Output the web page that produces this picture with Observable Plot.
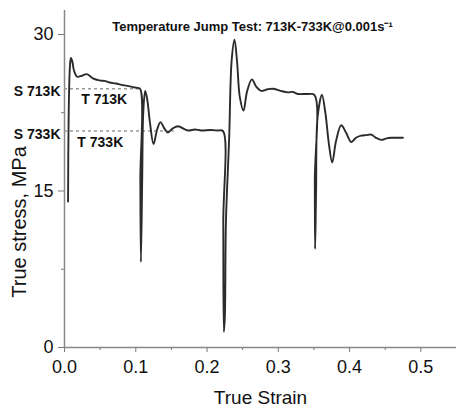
<!DOCTYPE html>
<html><head><meta charset="utf-8">
<script src="https://cdn.jsdelivr.net/npm/d3@7"></script>
<script src="https://cdn.jsdelivr.net/npm/@observablehq/plot@0.6"></script>
<style>body{margin:0;background:#fff}#chart{width:456px;height:408px}</style>
</head><body><div id="chart"></div>
<script>
const strain = [0.0050,0.0058,0.0075,0.0090,0.0110,0.0135,0.0178,0.0245,0.0314,0.0398,0.0491,0.0560,0.0631,0.0720,0.0819,0.0900,0.1006,0.1060,0.1064,0.1072,0.1090,0.1105,0.1132,0.1160,0.1200,0.1249,0.1300,0.1347,0.1400,0.1451,0.1520,0.1591,0.1731,0.1830,0.1918,0.2050,0.2150,0.2223,0.2228,0.2236,0.2250,0.2265,0.2310,0.2345,0.2385,0.2420,0.2460,0.2512,0.2560,0.2629,0.2690,0.2760,0.2850,0.2924,0.3030,0.3135,0.3200,0.3275,0.3415,0.3508,0.3512,0.3516,0.3530,0.3550,0.3612,0.3660,0.3710,0.3756,0.3810,0.3882,0.3950,0.4023,0.4090,0.4163,0.4230,0.4303,0.4370,0.4444,0.4520,0.4584,0.4748];
const stress = [14,22,26.8,27.75,27.4,26.5,25.95,26.05,26.2,25.8,25.6,25.55,25.4,25.3,25.15,25.05,24.9,24.8,16,8.2,16,22.5,24.6,23.8,21.5,19.5,20.9,21.6,21.0,20.6,21.0,21.2,20.8,20.9,20.8,20.85,20.8,20.75,12,1.5,3,12,20,27.5,29.5,27.5,24,22.7,24.5,25.7,25.0,24.6,24.75,24.8,24.6,24.45,24.5,24.3,24.3,24.2,16,9.45,15,22,24.2,22.5,19.5,17.75,19.8,21.3,20.6,19.7,20.1,20.3,20.35,20.4,20.1,19.9,20.05,20.1,20.1];

const xTicks = [0, 0.1, 0.2, 0.3, 0.4, 0.5];
const xTickLabels = ["0.0", "0.1", "0.2", "0.3", "0.4", "0.5"];
const xMinorTicks = [0.05, 0.15, 0.25, 0.35, 0.45, 0.55];
const yTicks = [0, 15, 30];
const yMinorTicks = [7.5, 22.5];

const setLevels = [24.8, 20.74];
const setLabels = ["S 713K", "S 733K"];
const setEnds = [0.1062, 0.154];
const tempLabels = ["T 713K", "T 733K"];
const tempX = [0.0235, 0.018];
const tempY = [23.76, 19.6];

const titleText = "Temperature Jump Test: 713K-733K@0.001s⁻¹";
const xLabel = "True Strain";
const yLabel = "True stress, MPa";

const curve = strain.map((s, i) => ({strain: s, stress: stress[i]}));
const refs = setLevels.map((v, i) => ({y: v, x1: 0, x2: setEnds[i], label: setLabels[i]}));
const temps = tempLabels.map((t, i) => ({x: tempX[i], y: tempY[i], label: t}));

const font = "'Liberation Sans', Arial, sans-serif";
const chart = Plot.plot({
  width: 456, height: 408,
  marginLeft: 64, marginRight: 0, marginTop: 10, marginBottom: 61,
  style: {fontFamily: font, background: "#fff", color: "#111"},
  x: {domain: [0, 0.55]},
  y: {domain: [0, 32.3]},
  marks: [
    Plot.axisX({ticks: xTicks, tickFormat: (d, i) => xTickLabels[i], tickSize: 5, tickPadding: 8, fontSize: 18, stroke: "#777", fill: "#111", label: null}),
    Plot.axisX({ticks: xMinorTicks, tickFormat: () => "", tickSize: 3, stroke: "#777", label: null}),
    Plot.axisY({ticks: yTicks, tickSize: 6, tickPadding: 5, fontSize: 18, stroke: "#777", fill: "#111", label: null}),
    Plot.axisY({ticks: yMinorTicks, tickFormat: () => "", tickSize: 3, stroke: "#777", label: null}),
    Plot.ruleY([0], {stroke: "#888", strokeWidth: 1.5}),
    Plot.ruleX([0], {stroke: "#888", strokeWidth: 1.5}),
    Plot.ruleY(refs, {y: "y", x1: "x1", x2: "x2", stroke: "#999", strokeWidth: 1.5, strokeDasharray: "3,3"}),
    Plot.line(curve, {x: "strain", y: "stress", stroke: "#2b2b2b", strokeWidth: 1.9, curve: "catmull-rom"}),
    Plot.text(refs, {x: 0, y: "y", text: "label", textAnchor: "end", dx: -4, dy: 3, fontSize: 14, fontWeight: "bold", fill: "#111"}),
    Plot.text(temps, {x: "x", y: "y", text: "label", textAnchor: "start", fontSize: 14, fontWeight: "bold", fill: "#111"}),
    Plot.text([titleText], {frameAnchor: "top", dx: -8, dy: 11, fontSize: 13, fontWeight: "bold", fill: "#111"}),
    Plot.text([xLabel], {frameAnchor: "bottom", dy: 56, fontSize: 19, fill: "#111"}),
    Plot.text([yLabel], {frameAnchor: "left", textAnchor: "middle", dx: -45, dy: 43, rotate: -90, fontSize: 20, fill: "#111"})
  ]
});
document.getElementById("chart").appendChild(chart);
</script>
</body></html>
